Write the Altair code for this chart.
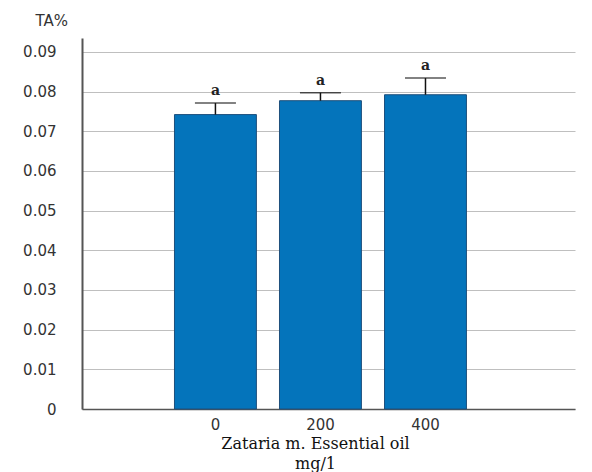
import altair as alt
import pandas as pd

categories = ["0", "200", "400"]
ta_values = [0.0742, 0.0777, 0.0792]
err_values = [0.0029, 0.0020, 0.0042]
letters = ["a", "a", "a"]
y_ticks = [0, 0.01, 0.02, 0.03, 0.04, 0.05, 0.06, 0.07, 0.08, 0.09]

df = pd.DataFrame({
    "dose": categories,
    "ta": ta_values,
    "err": err_values,
    "letter": letters,
})
df["top"] = df["ta"] + df["err"]

xscale = alt.Scale(domain=categories, paddingInner=0.22, paddingOuter=0.957, align=0.46)
yscale = alt.Scale(domain=[0, 0.0935], nice=False, zero=True)

base = alt.Chart(df)

bars = base.mark_bar(color="#0474bb", stroke="#1d4f7c", strokeWidth=1).encode(
    x=alt.X("dose:N", scale=xscale, sort=categories,
            axis=alt.Axis(title=["Zataria m. Essential oil", "mg/1"],
                          labelAngle=0, labelFont="DejaVu Sans", labelFontSize=15,
                          labelColor="#333333", labelPadding=8, ticks=False,
                          domainColor="#555555", domainWidth=1.5,
                          titleFont="DejaVu Serif", titleFontSize=16, titleFontWeight="normal",
                          titleColor="#111111", titleX=233, titleY=39,
                          titleBaseline="alphabetic", titleLineHeight=20, grid=False)),
    y=alt.Y("ta:Q", scale=yscale,
            axis=alt.Axis(values=y_ticks, title="TA%", titleAngle=0, titleAlign="left",
                          titleX=-47, titleY=-10, titleFont="DejaVu Sans", titleFontSize=15,
                          titleFontWeight="normal", titleColor="#333333",
                          labelFont="DejaVu Sans", labelFontSize=15, labelColor="#333333",
                          labelPadding=26, ticks=False,
                          labelExpr="datum.value == 0 ? '0' : format(datum.value, '.2f')",
                          domainColor="#555555", domainWidth=2,
                          grid=True, gridColor="#bfbfbf", gridWidth=1)),
)

stems = base.mark_rule(color="#111111", strokeWidth=1.5).encode(
    x=alt.X("dose:N", scale=xscale, sort=categories),
    y=alt.Y("ta:Q", scale=yscale),
    y2="top:Q",
)

caps = base.mark_tick(color="#111111", thickness=1.5, size=41, orient="horizontal").encode(
    x=alt.X("dose:N", scale=xscale, sort=categories),
    y=alt.Y("top:Q", scale=yscale),
)

labels = base.mark_text(font="DejaVu Serif", fontSize=14, fontWeight="bold",
                        color="#222222", baseline="alphabetic", dy=-8).encode(
    x=alt.X("dose:N", scale=xscale, sort=categories),
    y=alt.Y("top:Q", scale=yscale),
    text="letter:N",
)

chart = alt.layer(bars, stems, caps, labels).properties(
    width=493,
    height=371,
    autosize=alt.AutoSizeParams(type="none"),
    padding={"left": 82, "top": 38, "right": 17, "bottom": 63},
    background="white",
).configure_view(stroke=None)

chart.save("out.html", embed_options={"renderer": "svg", "actions": False})
